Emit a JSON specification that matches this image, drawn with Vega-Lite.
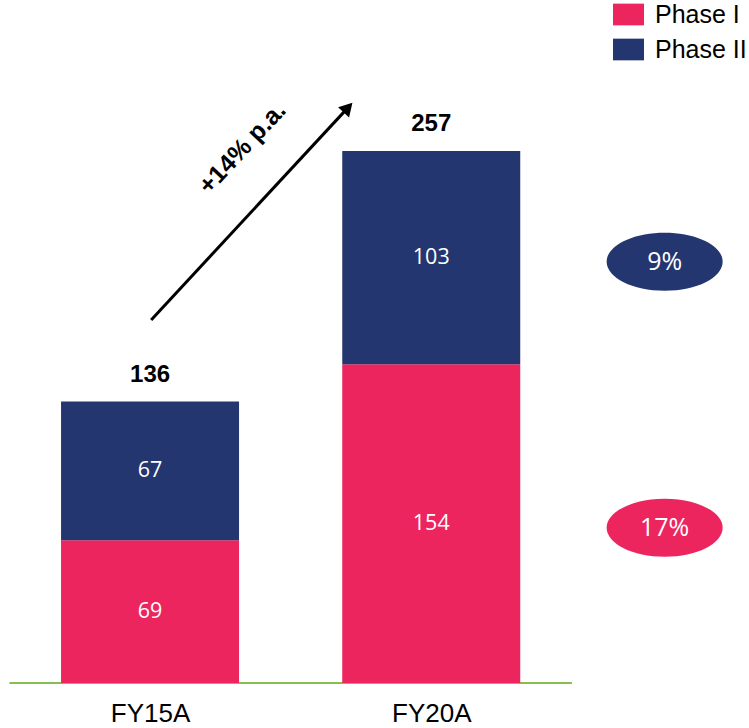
{
  "$schema": "https://vega.github.io/schema/vega-lite/v6.json",
  "width": 749,
  "height": 683,
  "autosize": "none",
  "padding": {"left": 0, "top": 0, "right": 0, "bottom": 45},
  "background": "white",
  "config": {"view": {"stroke": null}, "font": "Liberation Sans"},
  "datasets": {
    "phases": [
      {"year": 2015, "phase": "Phase I", "value": 69},
      {"year": 2015, "phase": "Phase II", "value": 67},
      {"year": 2020, "phase": "Phase I", "value": 154},
      {"year": 2020, "phase": "Phase II", "value": 103}
    ],
    "totals": [
      {"year": 2015, "total": 136},
      {"year": 2020, "total": 257}
    ],
    "cagr": [
      {"phase": "Phase I", "cagr": "17%"},
      {"phase": "Phase II", "cagr": "9%"}
    ],
    "growth": [
      {"from_year": 2015.02, "from_value": 175.4, "to_year": 2018.52, "to_value": 278.0, "label_year": 2016.64, "label_value": 258.5, "text": "+14% p.a."}
    ],
    "baseline": [
      {"start": 2012.5, "end": 2022.5, "level": 0}
    ]
  },
  "layer": [
    {
      "data": {"name": "baseline"},
      "mark": {"type": "rule", "color": "#86BF4E", "strokeWidth": 2},
      "encoding": {
        "x": {"field": "start", "type": "quantitative", "title": null, "scale": {"domain": [2012.421, 2025.561], "nice": false, "zero": false}, "axis": {"values": [2015, 2020], "labelExpr": "datum.value == 2015 ? 'FY15A' : 'FY20A'", "grid": false, "ticks": false, "domain": false, "labelFontSize": 26, "labelColor": "#000000", "labelFont": "Liberation Sans", "labelPadding": 17, "title": null}},
        "x2": {"field": "end"},
        "y": {"field": "level", "type": "quantitative", "title": null, "scale": {"domain": [0, 330], "nice": false, "zero": true}, "axis": null}
      }
    },
    {
      "data": {"name": "phases"},
      "mark": {"type": "bar", "width": 178},
      "encoding": {
        "x": {"field": "year", "type": "quantitative", "title": null},
        "y": {"field": "value", "type": "quantitative", "stack": "zero", "title": null},
        "color": {
          "field": "phase",
          "type": "nominal",
          "scale": {"domain": ["Phase I", "Phase II"], "range": ["#EC255F", "#243670"]},
          "legend": {
            "title": null,
            "orient": "none",
            "legendX": 613,
            "legendY": -1,
            "padding": 0,
            "symbolType": "M-1,-0.7H1V0.7H-1Z",
            "symbolSize": 961,
            "symbolStrokeWidth": 0,
            "symbolOpacity": 1,
            "labelFontSize": 25,
            "labelFont": "Liberation Sans",
            "labelColor": "#000000",
            "labelOffset": 11,
            "rowPadding": 6
          }
        },
        "order": {"field": "phase", "sort": "ascending"}
      }
    },
    {
      "data": {"name": "phases"},
      "transform": [
        {"stack": "value", "groupby": ["year"], "sort": [{"field": "phase", "order": "ascending"}], "as": ["v0", "v1"]},
        {"calculate": "(datum.v0 + datum.v1) / 2", "as": "mid"}
      ],
      "mark": {"type": "text", "color": "white", "font": "Open Sans", "fontSize": 21.5, "baseline": "middle", "align": "center"},
      "encoding": {
        "x": {"field": "year", "type": "quantitative", "title": null},
        "y": {"field": "mid", "type": "quantitative", "title": null},
        "text": {"field": "value", "type": "quantitative"}
      }
    },
    {
      "data": {"name": "totals"},
      "mark": {"type": "text", "color": "black", "font": "Liberation Sans", "fontWeight": "bold", "fontSize": 24, "baseline": "middle", "align": "center", "dy": -27},
      "encoding": {
        "x": {"field": "year", "type": "quantitative", "title": null},
        "y": {"field": "total", "type": "quantitative", "title": null},
        "text": {"field": "total", "type": "quantitative"}
      }
    },
    {
      "data": {"name": "growth"},
      "mark": {"type": "rule", "color": "black", "strokeWidth": 3},
      "encoding": {
        "x": {"field": "from_year", "type": "quantitative", "title": null},
        "x2": {"field": "to_year"},
        "y": {"field": "from_value", "type": "quantitative", "title": null},
        "y2": {"field": "to_value"}
      }
    },
    {
      "data": {"name": "growth"},
      "mark": {"type": "point", "shape": "triangle-up", "filled": true, "color": "black", "opacity": 1, "size": 225, "angle": 43},
      "encoding": {
        "x": {"field": "to_year", "type": "quantitative", "title": null},
        "y": {"field": "to_value", "type": "quantitative", "title": null}
      }
    },
    {
      "data": {"name": "growth"},
      "mark": {"type": "text", "color": "black", "font": "Liberation Sans", "fontWeight": "bold", "fontSize": 25, "angle": -47, "align": "center", "baseline": "middle"},
      "encoding": {
        "x": {"field": "label_year", "type": "quantitative", "title": null},
        "y": {"field": "label_value", "type": "quantitative", "title": null},
        "text": {"field": "text"}
      }
    },
    {
      "data": {"name": "phases"},
      "transform": [
        {"filter": "datum.year == 2020"},
        {"stack": "value", "groupby": ["year"], "sort": [{"field": "phase", "order": "ascending"}], "as": ["v0", "v1"]},
        {"calculate": "(datum.v0 + datum.v1) / 2", "as": "mid"},
        {"lookup": "phase", "from": {"data": {"name": "cagr"}, "key": "phase", "fields": ["cagr"]}}
      ],
      "layer": [
        {
          "mark": {"type": "point", "shape": "M-1,0A1,0.5,0,1,0,1,0A1,0.5,0,1,0,-1,0Z", "filled": true, "opacity": 1, "size": 13456, "yOffset": 4},
          "encoding": {
            "x": {"datum": 2024.15, "type": "quantitative", "title": null},
            "y": {"field": "mid", "type": "quantitative", "title": null},
            "color": {"field": "phase", "type": "nominal"}
          }
        },
        {
          "mark": {"type": "text", "color": "white", "font": "Open Sans", "fontSize": 25, "baseline": "middle", "align": "center", "yOffset": 4},
          "encoding": {
            "x": {"datum": 2024.15, "type": "quantitative", "title": null},
            "y": {"field": "mid", "type": "quantitative", "title": null},
            "text": {"field": "cagr"}
          }
        }
      ]
    }
  ]
}
